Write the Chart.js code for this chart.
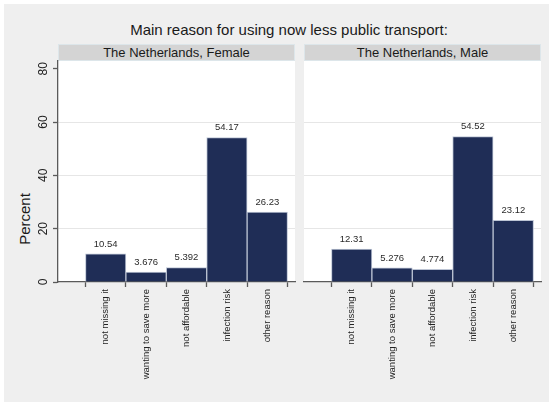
<!DOCTYPE html>
<html><head><meta charset="utf-8">
<script src="https://cdn.jsdelivr.net/npm/chart.js@4"></script>
<style>
html,body{margin:0;padding:0;background:#fff;width:553px;height:406px;overflow:hidden;font-family:"Liberation Sans",Arial,sans-serif;}
#bg{position:absolute;left:4px;top:4px;width:545px;height:398px;background:#efefef;}
.t{position:absolute;white-space:nowrap;color:#1a1a1a;}
#title{left:0;width:578px;top:21px;height:18px;font-size:15px;line-height:18px;text-align:center;}
.strip{position:absolute;top:44px;height:17px;width:237px;box-sizing:border-box;background:#d4d4d4;border:1px solid #dde6ea;font-size:13px;line-height:15px;text-align:center;color:#1a1a1a;}
#ytitle{left:-25.5px;top:210px;width:100px;height:18px;font-size:15px;line-height:18px;text-align:center;transform:rotate(-90deg);}
canvas{position:absolute;top:0;}
</style></head><body>
<div id="bg"></div>
<div id="title" class="t"></div>
<div id="s1" class="strip" style="left:58px"></div>
<div id="s2" class="strip" style="left:304px"></div>
<div id="ytitle" class="t"></div>
<canvas id="c1" width="300" height="406" style="left:0px;width:300px;height:406px"></canvas>
<canvas id="c2" width="253" height="406" style="left:300px;width:253px;height:406px"></canvas>
<script>
const chartTitle = "Main reason for using now less public transport:";
const panelTitles = ["The Netherlands, Female", "The Netherlands, Male"];
const yAxisTitle = "Percent";
const categories = ["not missing it", "wanting to save more", "not affordable", "infection risk", "other reason"];
const femaleValues = [10.54, 3.676, 5.392, 54.17, 26.23];
const maleValues = [12.31, 5.276, 4.774, 54.52, 23.12];
const yTicks = [0, 20, 40, 60, 80];

document.getElementById('title').textContent = chartTitle;
document.getElementById('s1').textContent = panelTitles[0];
document.getElementById('s2').textContent = panelTitles[1];
document.getElementById('ytitle').textContent = yAxisTitle;

const FAMILY = "'Liberation Sans', Arial, sans-serif";
const AXIS = '#5a5a5a';

const bgPlugin = {
  id: 'plotbg',
  beforeDraw(chart) {
    const a = chart.chartArea, c = chart.ctx;
    c.save(); c.fillStyle = '#ffffff';
    c.fillRect(a.left, a.top, a.right - a.left, a.bottom - a.top);
    c.restore();
  }
};
const labelPlugin = {
  id: 'barlabels',
  afterDatasetsDraw(chart) {
    const c = chart.ctx;
    const meta = chart.getDatasetMeta(0);
    const vals = chart.data.datasets[0].data;
    c.save();
    c.font = "9.5px " + FAMILY;
    c.fillStyle = '#2a2a2a';
    c.textAlign = 'center';
    c.textBaseline = 'middle';
    meta.data.forEach((el, i) => {
      c.fillText(String(vals[i].y), el.x, el.y - 10);
    });
    c.restore();
  }
};

function makeChart(id, values, showY, padding) {
  return new Chart(document.getElementById(id), {
    type: 'bar',
    data: {
      datasets: [{
        data: values.map((v, i) => ({x: i, y: v})),
        backgroundColor: '#1f2d56',
        borderColor: '#bcc4d4',
        borderWidth: 1,
        barPercentage: 1,
        categoryPercentage: 1
      }]
    },
    options: {
      responsive: false,
      animation: false,
      devicePixelRatio: 1,
      layout: {padding: padding},
      plugins: {legend: {display: false}, tooltip: {enabled: false}},
      scales: {
        x: {
          type: 'linear', min: -1.18, max: 4.685, offset: false,
          afterBuildTicks: s => { s.ticks = categories.map((c, i) => ({value: i})); },
          afterFit: s => { s.height = 124; },
          grid: {drawOnChartArea: false, drawTicks: true, tickLength: 5, tickColor: AXIS, tickWidth: 1.3},
          border: {display: true, color: AXIS, width: 1.3},
          ticks: {autoSkip: false, minRotation: 90, maxRotation: 90, padding: 2, color: '#222',
                  font: {size: 9.5, family: FAMILY}, callback: v => categories[v]}
        },
        y: {
          min: 0, max: 82.9,
          afterBuildTicks: s => { s.ticks = yTicks.map(v => ({value: v})); },
          afterFit: s => { s.width = showY ? 58 : 0; },
          grid: {
            color: c => (c.tick && c.tick.value > 0 && c.tick.value < 80) ? '#e6e6e6' : 'rgba(0,0,0,0)',
            lineWidth: 1, drawTicks: showY, tickLength: 5, tickColor: AXIS, tickWidth: 1.3
          },
          border: {display: showY, color: AXIS, width: 1.3},
          ticks: {display: showY, minRotation: 90, maxRotation: 90, crossAlign: 'center', padding: 3,
                  color: '#222', font: {size: 12, family: FAMILY}}
        }
      }
    },
    plugins: [bgPlugin, labelPlugin]
  });
}

makeChart('c1', femaleValues, true, {top: 61, right: 5, left: 0, bottom: 0});
makeChart('c2', maleValues, false, {top: 61, right: 12, left: 4, bottom: 0});
</script>
</body></html>
